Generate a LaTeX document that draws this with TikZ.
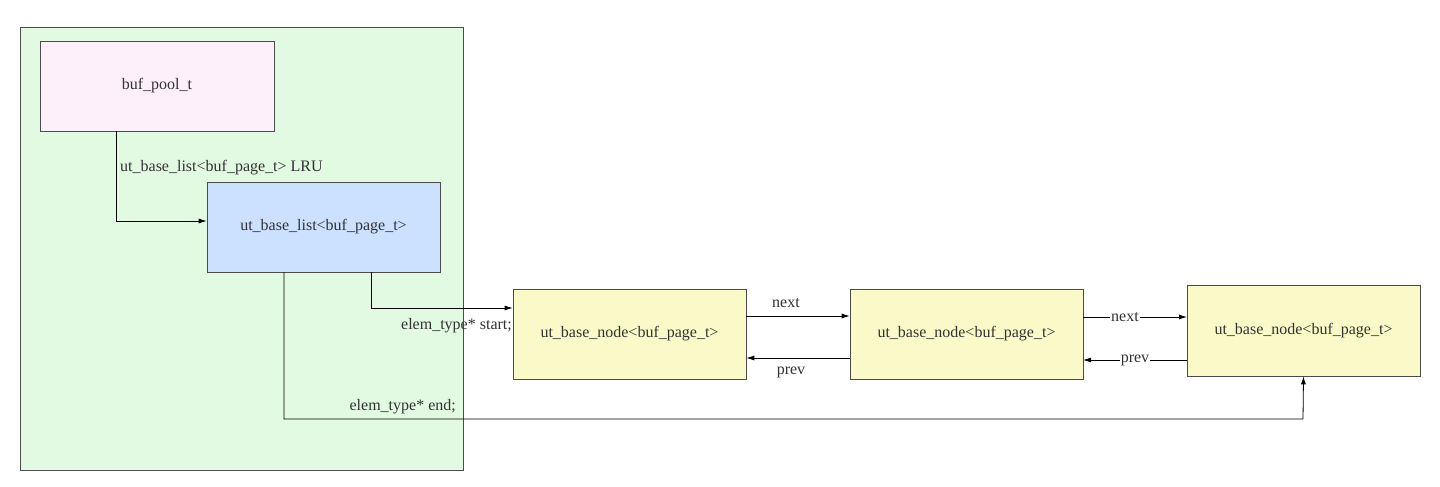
\documentclass[tikz,border=0pt]{standalone}
\usepackage{fontspec}
\setmainfont{Liberation Serif}
\usetikzlibrary{arrows.meta}
\definecolor{grn}{HTML}{E2F9E2}
\definecolor{pnk}{HTML}{FDF0FA}
\definecolor{blu}{HTML}{CCE0FF}
\definecolor{ylw}{HTML}{FAFAC8}
\definecolor{txt}{HTML}{333333}
\tikzset{
  box/.style={draw=black!70, line width=0.6pt, minimum width=233pt, minimum height=90pt, inner sep=0pt, text=txt, font=\fontsize{16}{19}\selectfont},
  conn/.style={draw=black, line width=0.8pt, -{Latex[length=8pt,width=5pt]}},
  lbl/.style={text=txt, font=\fontsize{16}{19}\selectfont, inner sep=1pt},
}
\begin{document}
\begin{tikzpicture}[x=1pt,y=1pt,yscale=-1]
\useasboundingbox (0,0) rectangle (1440,487);
\fill[white] (0,0) rectangle (1440,487);

% container
\draw[black!70, line width=0.6pt, fill=grn] (20,27) rectangle (463,470);

% boxes
\node[box, fill=pnk, minimum width=234pt] (pool) at (157,86) {buf\_pool\_t};
\node[box, fill=blu] (list) at (323.5,227) {ut\_base\_list<buf\_page\_t>};
\node[box, fill=ylw] (n1) at (629.5,334) {ut\_base\_node<buf\_page\_t>};
\node[box, fill=ylw] (n2) at (966.5,334) {ut\_base\_node<buf\_page\_t>};
\node[box, fill=ylw, minimum height=91pt] (n3) at (1303.5,330.5) {ut\_base\_node<buf\_page\_t>};

% LRU
\draw[conn] (pool.south west) ++(77,0) |- ([yshift=-6pt]list.west);
\node[lbl, anchor=west] (lru) at (119,168) {ut\_base\_list<buf\_page\_t> LRU};

% start / end
\coordinate (sA) at ([xshift=47.5pt]list.south);
\draw[conn] (sA) |- ([yshift=-26pt]n1.west);
\node[lbl, anchor=east] (st) at (513,326) {elem\_type* start;};
\coordinate (eA) at ([xshift=-39.5pt]list.south);
\coordinate (eB) at (1303,419);
\draw[conn] (eA) |- (eB) -- (n3.south);
\node[lbl, anchor=east] (en) at (457,407) {elem\_type* end;};

% next / prev
\draw[conn] ([yshift=-18pt]n1.east) -- ([yshift=-18pt]n2.west);
\node[lbl] (nx1) at (786,303) {next};
\draw[conn] ([yshift=24pt]n2.west) -- ([yshift=24pt]n1.east);
\node[lbl] (pv1) at (791,372) {prev};
\draw[conn] (1083,317) -- (1187,317);
\node[lbl, fill=white] (nx2) at (1125,317) {next};
\draw[conn] (1187,360) -- (1083,360);
\node[lbl, fill=white] (pv2) at (1135,360) {prev};
\end{tikzpicture}
\end{document}
